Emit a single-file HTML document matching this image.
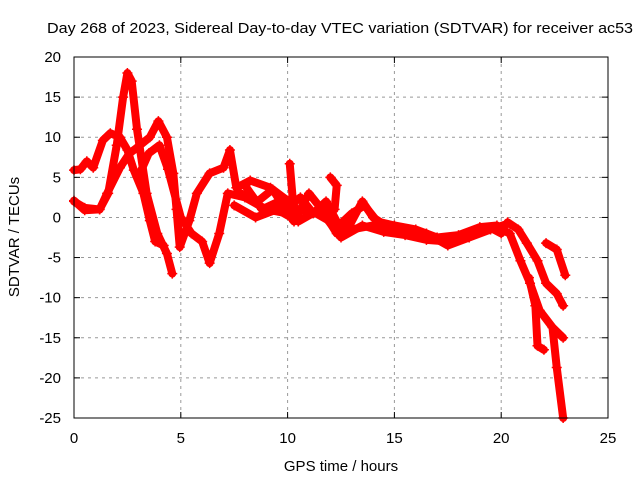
<!DOCTYPE html>
<html><head><meta charset="utf-8"><style>
body{margin:0;background:#fff}
svg{display:block;font-family:"Liberation Sans",sans-serif}
</style></head><body>
<svg id="chart" width="640" height="480" viewBox="0 0 640 480">
<rect width="640" height="480" fill="#fff"/>
<text x="340" y="33" font-size="15" text-anchor="middle" textLength="586" lengthAdjust="spacingAndGlyphs" fill="#000">Day 268 of 2023, Sidereal Day-to-day VTEC variation (SDTVAR) for receiver ac53</text>
<g id="grid"></g>
<g id="ticks"></g>
<g id="series"></g>
<rect x="74" y="57" width="534" height="361" fill="none" stroke="#000" stroke-width="1"/>
<text x="341" y="471" font-size="15" text-anchor="middle">GPS time / hours</text>
<text transform="translate(19,237) rotate(-90)" font-size="15" text-anchor="middle">SDTVAR / TECUs</text>
</svg>
<script>
const xTicks=[0,5,10,15,20,25];
const yTicks=[20,15,10,5,0,-5,-10,-15,-20,-25];
const sAx=[0,0.5,1.2,1.6,2.0,2.3,2.5,2.7,2.95,3.4,3.9,4.35,4.6];
const sAy=[2,1.2,1,3,9,15,18,17,11,3,-2,-4.5,-7];
const sBx=[0,0.3,0.6,0.9,1.35,1.7,2.15,2.5,2.8,3.25,3.55,3.8,4.2];
const sBy=[5.9,6,7,6.2,9.6,10.5,10,8.4,5.9,3,-0.4,-3,-3.5];
const sCx=[0,0.5,1.2,1.55,2.15,2.6,2.95,3.55,3.95,4.35,4.65,4.8,4.95,5.4,5.75,6.35,7,7.3,7.6,8.25,9.2,10];
const sCy=[2.1,0.9,1,3,6.2,8,8.7,10,12,10,5.5,1,-3.7,-0.4,3,5.5,6.2,8.4,3.7,4.6,3.7,2.1];
const sDx=[3.0,3.5,4.0,4.4,5.0,5.5,6.0,6.35,6.8,7.2,8.0,9.0,10,11,12,13,14,15,16.5,17.5,18.5,19.5,20.3];
const sDy=[5,8,9,6,0,-2,-3,-5.7,-2,3,2.5,1,0.5,1,-0.5,-1.5,-1,-1.5,-2,-3.5,-2.5,-1.5,-0.8];
const sEx=[7.5,8.5,9.5,10.5,11.5,12.5,13.5,14.5,15.5,16.5,17.5,18.5,19.5,20.0];
const sEy=[1.5,0,1,-0.5,1,-2.5,-1,-1.8,-2.2,-2.8,-3,-2,-1.3,-2];
const sMx=[7.8,8.6,9.3,9.9,10.6,11.2,11.8,12.4,13.0,13.6,14.2,15.0,16.0,17.0,18.0,19.0,19.8];
const sMy=[3,2,3.5,1,2.5,0.5,2,-1,0.5,1.5,-0.5,-1,-1.5,-2.5,-2.2,-1.2,-1];
const sNx=[8.0,8.8,9.6,10.3,11.0,11.6,12.3,12.9,13.5,14.0,14.6];
const sNy=[4,1,2,-0.5,3,1,-2,-1,2,0,-1];
const sFx=[20.3,20.8,21.2,21.7,22.1,22.6,22.9];
const sFy=[-0.6,-1.5,-3.2,-5.4,-8.2,-9.5,-11];
const sGx=[20.0,20.4,20.9,21.35,21.8,22.4,22.9];
const sGy=[-1.5,-2,-5.4,-8.2,-11.6,-13.7,-15];
const sHx=[21.3,21.6,21.7,22.0];
const sHy=[-7.5,-11,-16,-16.5];
const sIx=[22.4,22.6,22.9];
const sIy=[-13.7,-18.7,-25];
const sJx=[22.1,22.6,23.0];
const sJy=[-3.2,-4,-7.2];
const sKx=[10.1,10.25,10.4];
const sKy=[6.7,2,0.5];
const sLx=[12.0,12.3,12.2];
const sLy=[5,4,1];
const allSeries=[[sAx,sAy],[sBx,sBy],[sCx,sCy],[sDx,sDy],[sEx,sEy],[sMx,sMy],[sNx,sNy],[sFx,sFy],[sGx,sGy],[sHx,sHy],[sIx,sIy],[sJx,sJy],[sKx,sKy],[sLx,sLy]];
const NS='http://www.w3.org/2000/svg';
const X0=74,X1=608,Y0=418,Y1=57;
const xs=v=>X0+(v-0)/(25-0)*(X1-X0);
const ys=v=>Y0-(v+25)/(45)*(Y0-Y1);
const grid=document.getElementById('grid'),ticks=document.getElementById('ticks'),ser=document.getElementById('series');
function mk(t,a,p){const e=document.createElementNS(NS,t);for(const k in a)e.setAttribute(k,a[k]);p.appendChild(e);return e;}
xTicks.forEach(v=>{const x=xs(v);
 if(v>0&&v<25){const g=mk('line',{x1:x,y1:Y1,x2:x,y2:Y0,stroke:'#999','stroke-dasharray':'3,4'},grid);
 
 }
 mk('line',{x1:x,y1:Y0,x2:x,y2:Y0-6,stroke:'#000'},ticks);
 mk('line',{x1:x,y1:Y1,x2:x,y2:Y1+6,stroke:'#000'},ticks);
 const t=mk('text',{x:x,y:443,'font-size':15,'text-anchor':'middle'},ticks);t.textContent=v;
 
 });
yTicks.forEach(v=>{const y=ys(v);
 if(v<20&&v>-25){const g=mk('line',{x1:X0,y1:y,x2:X1,y2:y,stroke:'#999','stroke-dasharray':'3,4'},grid);
 
 }
 mk('line',{x1:X0,y1:y,x2:X0+6,y2:y,stroke:'#000'},ticks);
 mk('line',{x1:X1,y1:y,x2:X1-6,y2:y,stroke:'#000'},ticks);
 const t=mk('text',{x:61,y:y+5,'font-size':15,'text-anchor':'end'},ticks);t.textContent=v;
 
 });
allSeries.forEach((s,i)=>{const [sx,sy]=s;
 const pts=sx.map((v,j)=>xs(v)+','+ys(sy[j])).join(' ');
 const pl=mk('polyline',{points:pts,fill:'none',stroke:'#f00','stroke-width':8,'stroke-linejoin':'round','stroke-linecap':'round'},ser);
 
 
 sx.forEach((v,j)=>{const x=xs(v),y=ys(sy[j]);
  const p=mk('path',{d:`M${x-5},${y}h10M${x},${y-5}v10`,stroke:'#f00','stroke-width':1.5},ser);
  
  });
});
</script>
</body></html>
